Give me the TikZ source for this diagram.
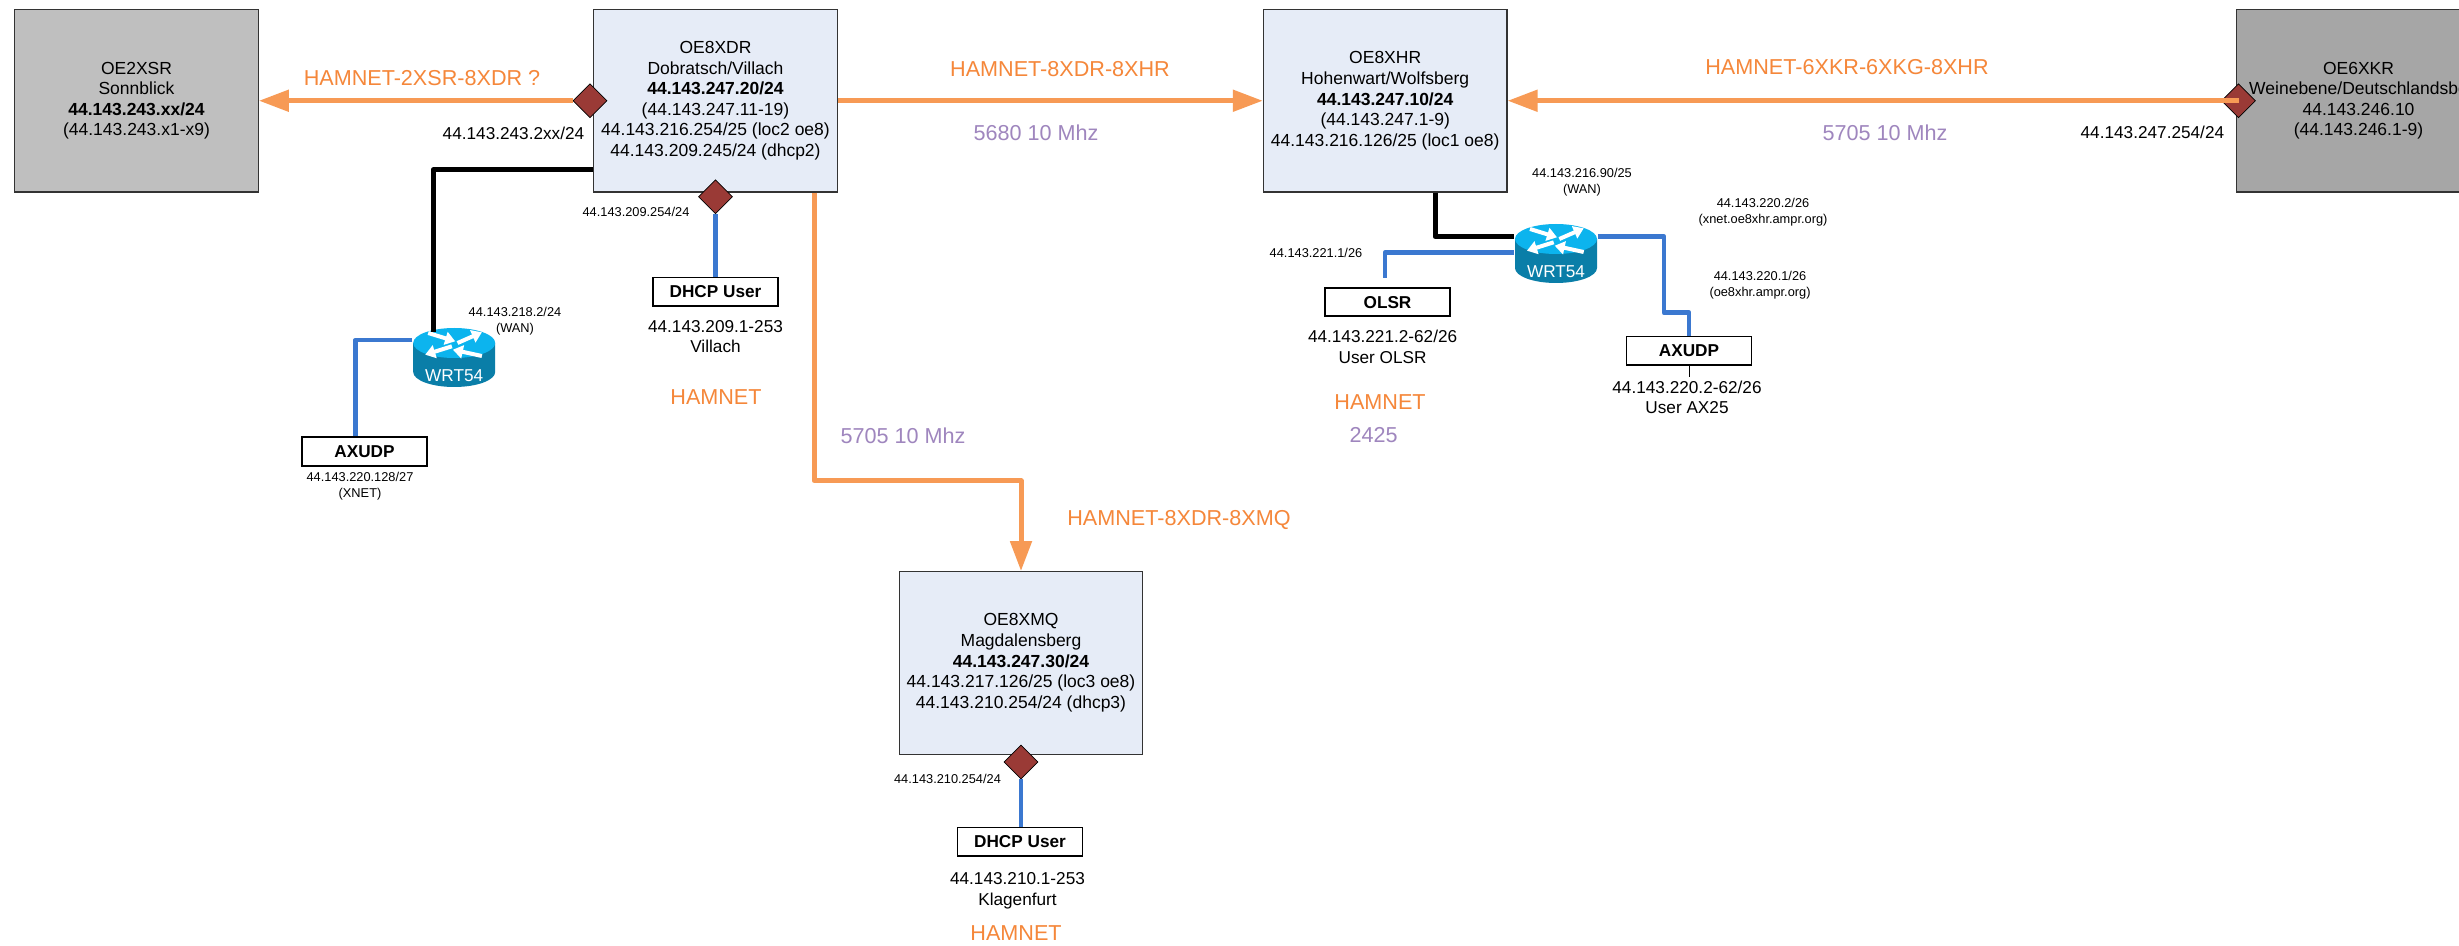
\documentclass[tikz,border=0pt]{standalone}
\usepackage{fontspec}
\setmainfont{Liberation Sans}
\usetikzlibrary{arrows.meta,shapes.geometric}
\definecolor{linkorange}{HTML}{F79A55}
\definecolor{textorange}{HTML}{F5873A}
\definecolor{freqpurple}{HTML}{9F86BE}
\definecolor{userblue}{HTML}{3B78D0}
\definecolor{sitefill}{HTML}{E6ECF7}
\definecolor{greyA}{HTML}{BFBFBF}
\definecolor{greyB}{HTML}{A6A6A6}
\definecolor{dia}{HTML}{9A3A36}
\definecolor{rtop}{HTML}{0CB4EE}
\definecolor{rside}{HTML}{0A7EA8}
\tikzset{
  site/.style={draw=black!80,line width=.6pt,minimum width=121.8pt,minimum height=91.25pt,inner sep=0pt,align=center,font=\fontsize{8.75}{10.3}\selectfont},
  userbox/.style={draw=black,fill=white,line width=.9pt,minimum width=62.5pt,minimum height=14.2pt,inner sep=0pt,font=\fontsize{8.6}{10.3}\selectfont\bfseries},
  port/.style={diamond,draw=black,line width=.35pt,fill=dia,aspect=1,minimum width=17pt,minimum height=17pt,inner sep=0pt},
  txt/.style={inner sep=0pt,align=center,font=\fontsize{8.6}{10.3}\selectfont},
  small/.style={inner sep=0pt,align=center,font=\fontsize{6.4}{8}\selectfont},
  olabel/.style={inner sep=0pt,text=textorange,font=\fontsize{10.8}{12}\selectfont},
  flabel/.style={inner sep=0pt,text=freqpurple,font=\fontsize{10.8}{12}\selectfont},
  radio/.style={draw=linkorange,line width=2.5pt,line join=round,-{Triangle[length=15pt,width=10.5pt]}},
  lan/.style={draw=userblue,line width=2.4pt,line join=round},
  wan/.style={draw=black,line width=2.5pt,line join=round},
  routerframe/.style={minimum width=41.5pt,minimum height=29.5pt,inner sep=0pt},
  rarrow/.style={white,line width=2pt,-{Triangle[length=5pt,width=6.5pt]}}
}
\newcommand{\wrtrouter}[3]{%
  \node[routerframe] (#1) at (#2,#3) {};
  \begin{scope}[shift={(#2,#3)}]
    \fill[rside] (-41,-14.5) -- (-41,14.5) arc[start angle=180,end angle=0,x radius=41,y radius=15] -- (41,-14.5) -- cycle;
    \fill[rtop] (0,-14.5) ellipse[x radius=41,y radius=15];
    \draw[rarrow] (-26,-24.5) -- (1,-16.2);
    \draw[rarrow] (3.3,-14.5) -- (27.7,-25.2);
    \draw[rarrow] (-2.3,-11.2) -- (-29,-2.8);
    \draw[rarrow] (27.7,-1.5) -- (-1.3,-7.8);
    \node[txt,text=white] (#1t) at (0,18.5) {WRT54};
  \end{scope}}
\begin{document}
\begin{tikzpicture}[x=0.5pt,y=-0.5pt]
\useasboundingbox (0,0) rectangle (2459,946);
\fill[white] (0,0) rectangle (2459,946);
\clip (0,0) rectangle (2459,946);

% sites
\node[site,fill=greyA] (xsr) at (136.5,100.75) {OE2XSR\\Sonnblick\\\textbf{44.143.243.xx/24}\\(44.143.243.x1-x9)};
\node[site,fill=sitefill] (xdr) at (715.5,100.75) {OE8XDR\\Dobratsch/Villach\\\textbf{44.143.247.20/24}\\(44.143.247.11-19)\\44.143.216.254/25 (loc2 oe8)\\44.143.209.245/24 (dhcp2)};
\node[site,fill=sitefill] (xhr) at (1385.2,100.75) {OE8XHR\\Hohenwart/Wolfsberg\\\textbf{44.143.247.10/24}\\(44.143.247.1-9)\\44.143.216.126/25 (loc1 oe8)};
\node[site,fill=greyB] (xkr) at (2358.5,100.75) {OE6XKR\\Weinebene/Deutschlandsbg\\44.143.246.10\\(44.143.246.1-9)};
\node[site,fill=sitefill] (xmq) at (1021,662.9) {OE8XMQ\\Magdalensberg\\\textbf{44.143.247.30/24}\\44.143.217.126/25 (loc3 oe8)\\44.143.210.254/24 (dhcp3)};

% user boxes
\node[userbox] (dhcpA) at (715.5,291.8) {DHCP User};
\node[userbox] (dhcpB) at (1020,841.7) {DHCP User};
\node[userbox] (axA) at (364.5,451.5) {AXUDP};
\node[userbox] (olsr) at (1387.5,302.2) {OLSR};
\node[userbox] (axB) at (1689,350.8) {AXUDP};

% ports
\node[port] (pA) at (590,100.75) {};
\node[port] (pB) at (715.5,196.7) {};
\node[port] (pC) at (1021,762) {};
\node[port] (pD) at (2238.5,100.75) {};

% radio links
\draw[radio] (pA.west) -- (xsr.east);
\draw[radio] (xdr.east) -- (xhr.west);
\draw[radio] (pD.center) -- (xhr.east);
\coordinate (bendR) at (814,480.7);
\draw[radio] (bendR |- xdr.south) -- (bendR) -- (bendR -| xmq.north) -- (xmq.north);

% user links
\draw[lan] (pB.south) -- (dhcpA.north);
\draw[lan] (pC.south) -- (pC.south |- dhcpB.north);

% routers
\wrtrouter{rA}{454.2}{357.5}
\wrtrouter{rB}{1556}{253.5}

\coordinate (wanA) at (433,170);
\draw[wan,shorten >=-2pt] (xdr.west |- wanA) -- (wanA) -- (wanA |- rA.north);
\coordinate (lanA) at (355.5,340);
\draw[lan] (lanA -| rA.west) -- (lanA) -- (lanA |- axA.north);

\coordinate (wanB) at (1435,236.7);
\draw[wan] (wanB |- xhr.south) -- (wanB) -- (wanB -| rB.west);
\coordinate (lanBa) at (1385,252.7);
\coordinate (olsrEnd) at (1385,278);
\draw[lan] (lanBa -| rB.west) -- (lanBa) -- (olsrEnd);
\coordinate (lanBb) at (1664,236.7);
\coordinate (lanBc) at (1664,312.7);
\draw[lan] (lanBb -| rB.east) -- (lanBb) -- (lanBc) -- (lanBc -| axB.north) -- (axB.north);
\coordinate (tick) at (1689,376.7);
\draw[black,line width=.5pt] (axB.south) -- (tick);

% orange labels
\node[olabel] (lA) at (422,78) {HAMNET-2XSR-8XDR ?};
\node[olabel] (lB) at (1060,69) {HAMNET-8XDR-8XHR};
\node[olabel] (lC) at (1847,67.5) {HAMNET-6XKR-6XKG-8XHR};
\node[olabel] (lD) at (1179,520) {HAMNET-8XDR-8XMQ};
\node[olabel] (hA) at (716,397) {HAMNET};
\node[olabel] (hB) at (1380,401.7) {HAMNET};
\node[olabel] (hC) at (1016,933) {HAMNET};

% frequencies
\node[flabel] (fA) at (1036,133) {5680 10 Mhz};
\node[flabel] (fB) at (1885,133) {5705 10 Mhz};
\node[flabel] (fC) at (903,436) {5705 10 Mhz};
\node[flabel] (fD) at (1373.7,434.7) {2425};

% addresses
\node[txt] (tA) at (513.5,133) {44.143.243.2xx/24};
\node[txt] (tB) at (2152.4,132) {44.143.247.254/24};
\node[txt] (tC) at (715.5,336.5) {44.143.209.1-253\\Villach};
\node[txt] (tD) at (1382.6,347) {44.143.221.2-62/26\\User OLSR};
\node[txt] (tE) at (1687,397.5) {44.143.220.2-62/26\\User AX25};
\node[txt] (tF) at (1017.5,890.5) {44.143.210.1-253\\Klagenfurt};

\node[small] (sA) at (636,212) {44.143.209.254/24};
\node[small] (sB) at (515,321) {44.143.218.2/24\\(WAN)};
\node[small] (sC) at (360,486.5) {44.143.220.128/27\\(XNET)};
\node[small] (sD) at (1582,182) {44.143.216.90/25\\(WAN)};
\node[small] (sE) at (1763,212) {44.143.220.2/26\\(xnet.oe8xhr.ampr.org)};
\node[small] (sF) at (1760,285.5) {44.143.220.1/26\\(oe8xhr.ampr.org)};
\node[small] (sG) at (1316,252.7) {44.143.221.1/26};
\node[small] (sH) at (947.5,778.7) {44.143.210.254/24};
\end{tikzpicture}
\end{document}
